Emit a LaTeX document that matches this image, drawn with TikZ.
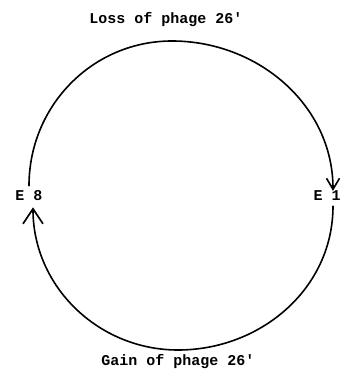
\documentclass[tikz,border=0pt]{standalone}
\usepackage{fontspec}
\setmonofont{Liberation Mono}
\usepackage{tikz}
\usetikzlibrary{arrows.meta}

\begin{document}
\begin{tikzpicture}[x=1pt,y=1pt,
  lbl/.style={font=\ttfamily\bfseries\fontsize{15}{17}\selectfont,inner sep=1pt},
  arc/.style={line width=1.6pt,black,line cap=round},
]
  \useasboundingbox (0,0) rectangle (341,370);
  \node[lbl] (e8) at (29,174) {E 8};
  \node[lbl] (e1) at (327,174) {E 1};
  \node[lbl] (loss) at (166,350) {Loss of phage 26'};
  \node[lbl] (gain) at (178,8) {Gain of phage 26'};
  \coordinate (top) at (172,329);
  \coordinate (bot) at (178,20);
  \draw[arc,-{Straight Barb[length=11pt,width=13pt,line width=1.6pt]}]
    ([yshift=4pt]e8.north) to[out=90,in=180] (top) to[out=0,in=90] ([xshift=6pt,yshift=-1pt]e1.north);
  \draw[arc,-{Straight Barb[length=15pt,width=20pt,line width=1.7pt]}]
    ([xshift=6pt,yshift=-4pt]e1.south) to[out=-90,in=0] (bot) to[out=180,in=-90] ([xshift=4pt,yshift=-5pt]e8.south);
\end{tikzpicture}
\end{document}
